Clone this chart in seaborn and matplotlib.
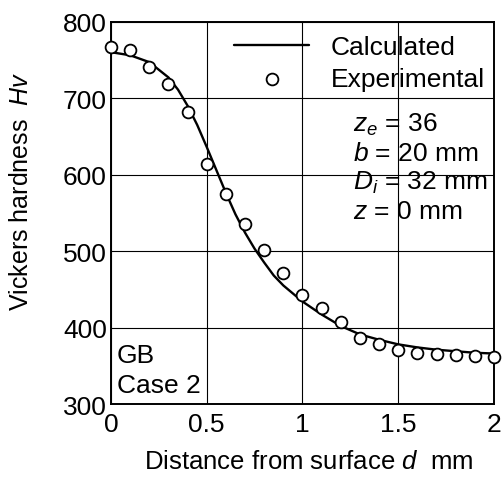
import numpy as np
import pandas as pd
import seaborn as sns
import matplotlib
matplotlib.use("Agg")
import matplotlib.pyplot as plt

# calculated curve
calc_d = [0.0, 0.1, 0.2, 0.3, 0.35, 0.4, 0.45, 0.5, 0.55, 0.6, 0.65, 0.7, 0.75,
          0.8, 0.85, 0.9, 1.0, 1.1, 1.2, 1.3, 1.4, 1.5, 1.6, 1.7, 1.8, 1.9, 2.0]
calc_hv = [760, 756, 747, 727, 711, 690, 665, 636, 606, 576, 548, 524, 503,
           485, 468, 455, 434, 417, 402, 391, 384, 378, 374, 371, 369, 367, 366]

# experimental points
exp_d = [0.0, 0.1, 0.2, 0.3, 0.4, 0.5, 0.6, 0.7, 0.8, 0.9, 1.0,
         1.1, 1.2, 1.3, 1.4, 1.5, 1.6, 1.7, 1.8, 1.9, 2.0]
exp_hv = [767, 763, 741, 718, 682, 614, 575, 535, 501, 471, 443,
          426, 407, 386, 378, 370, 367, 366, 364, 363, 361]

sns.set_theme(style="white")
plt.rcParams["font.family"] = ["Liberation Sans", "DejaVu Sans"]
plt.rcParams["mathtext.fontset"] = "custom"
plt.rcParams["mathtext.rm"] = "Liberation Sans"
plt.rcParams["mathtext.it"] = "Liberation Sans:italic"
plt.rcParams["text.color"] = "black"
plt.rcParams["axes.labelcolor"] = "black"
fs = 19

df_calc = pd.DataFrame({"d": calc_d, "hv": calc_hv})
df_exp = pd.DataFrame({"d": exp_d, "hv": exp_hv})

fig = plt.figure(figsize=(5.03, 4.81), dpi=100)
ax = fig.add_axes([0.2207, 0.158, 0.7613, 0.795])

sns.lineplot(data=df_calc, x="d", y="hv", ax=ax, color="black", linewidth=1.7,
             label="Calculated", zorder=2)
sns.scatterplot(data=df_exp, x="d", y="hv", ax=ax, marker="o", s=72,
                facecolor="white", edgecolor="black", linewidth=1.3,
                label="Experimental", zorder=3, clip_on=False)

ax.set_xlim(0, 2)
ax.set_ylim(300, 800)
ax.set_xticks([0, 0.5, 1, 1.5, 2])
ax.set_xticklabels(["0", "0.5", "1", "1.5", "2"])
ax.set_yticks([300, 400, 500, 600, 700, 800])
ax.grid(True, color="black", linewidth=0.8)
ax.tick_params(axis="both", length=0, labelsize=fs, colors="black")
ax.tick_params(axis="x", pad=6)
ax.tick_params(axis="y", pad=3)
for s in ax.spines.values():
    s.set_color("black")
    s.set_linewidth(1.4)

ax.set_xlabel(r"Distance from surface $d$  mm", fontsize=18.5)
ax.set_ylabel(r"Vickers hardness  $Hv$", fontsize=18)
ax.xaxis.set_label_coords(0.516, -0.118)
ax.yaxis.set_label_coords(-0.203, 0.56)

leg = ax.legend(loc="upper right", bbox_to_anchor=(0.977, 0.965), frameon=False,
                fontsize=fs, handlelength=2.84, handletextpad=0.83,
                labelspacing=0.3, borderaxespad=0, borderpad=0)

# parameter block
params = [r"$z_e$ = 36", r"$b$ = 20 mm", r"$D_i$ = 32 mm", r"$z$ = 0 mm"]
for i, t in enumerate(params):
    ax.text(1.265, 657 - i * 38, t, fontsize=fs, ha="left", va="baseline")

ax.text(0.03, 355, "GB", fontsize=fs, ha="left", va="baseline")
ax.text(0.03, 316, "Case 2", fontsize=fs, ha="left", va="baseline")

fig.savefig("out.png", dpi=100)
